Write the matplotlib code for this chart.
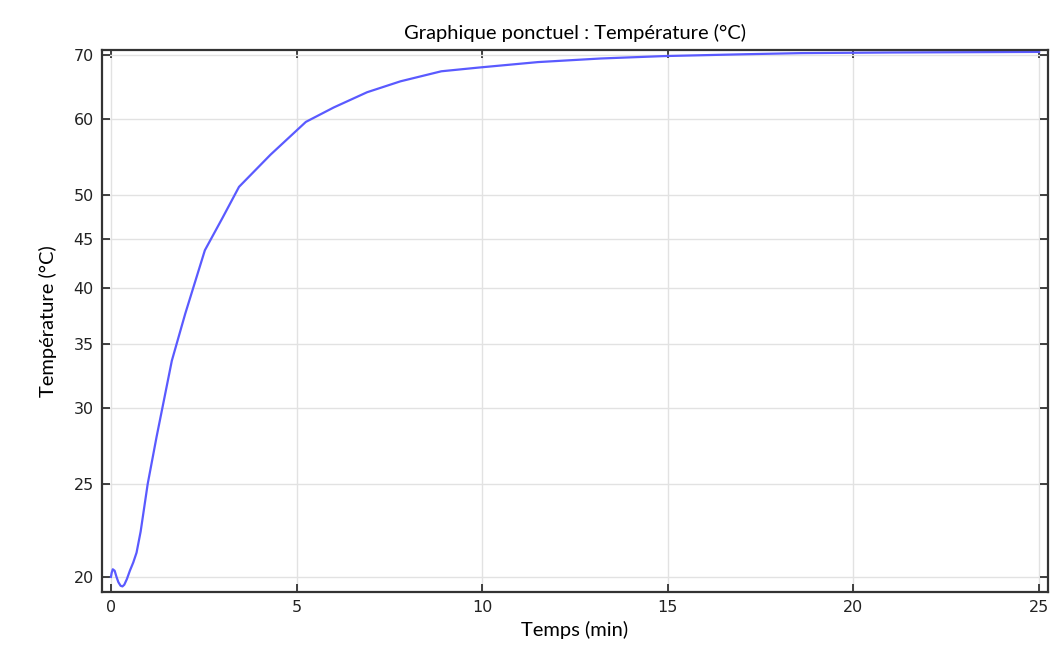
import os
import matplotlib
matplotlib.use("Agg")
import matplotlib.pyplot as plt
from matplotlib.ticker import NullLocator
from matplotlib.font_manager import FontProperties

# Data
time_min = [0.0, 0.02, 0.05, 0.1, 0.15, 0.2, 0.26, 0.31, 0.36, 0.43, 0.51, 0.6, 0.69,
            0.8, 0.99, 1.23, 1.43, 1.64, 2.0, 2.53, 3.0, 3.45, 4.3, 5.25, 6.0,
            6.9, 7.8, 8.9, 9.9, 11.5, 13.2, 14.9, 17.0, 18.6, 21.0, 25.0]
temperature = [20.0, 20.2, 20.37, 20.3, 20.0, 19.75, 19.58, 19.55, 19.63, 19.9, 20.3,
               20.7, 21.2, 22.3, 25.0, 28.0, 30.6, 33.6, 37.6, 43.8, 47.3, 51.0,
               55.1, 59.6, 61.7, 64.0, 65.7, 67.3, 67.9, 68.8, 69.4, 69.8, 70.1,
               70.3, 70.4, 70.5]

x_ticks = [0, 5, 10, 15, 20, 25]
y_ticks = [20, 25, 30, 35, 40, 45, 50, 60, 70]

dv_path = os.path.join(matplotlib.get_data_path(), "fonts", "ttf", "DejaVuSans.ttf")
if os.path.exists(dv_path):
    tick_fp = FontProperties(fname=dv_path, size=11.5)
else:
    tick_fp = FontProperties(family="DejaVu Sans", size=11.5)

fig = plt.figure(figsize=(10.54, 6.55), dpi=100)
ax = fig.add_axes([0.0968, 0.0962, 0.8975, 0.8275])

ax.plot(time_min, temperature, color="#5a5aff", linewidth=1.6)

ax.set_yscale("log")
ax.set_xlim(-0.24, 25.24)
ax.set_ylim(19.29, 70.83)

ax.set_xticks(x_ticks, [str(v) for v in x_ticks], fontproperties=tick_fp, color="#222222")
ax.set_yticks(y_ticks, [str(v) for v in y_ticks], fontproperties=tick_fp, color="#222222")
ax.yaxis.set_minor_locator(NullLocator())
ax.xaxis.set_minor_locator(NullLocator())

ax.grid(True, color="#e2e2e2", linewidth=1.0)
ax.set_axisbelow(True)

for s in ax.spines.values():
    s.set_color("#333333")
    s.set_linewidth(1.6)

ax.tick_params(direction="in", top=True, right=True, length=6, width=1.2,
               color="#222222", pad=6)

lab_font = dict(family="Lato", size=14.5, color="#000000")
ax.set_title("Graphique ponctuel : Température (°C)", fontdict=lab_font, pad=8)
ax.set_xlabel("Temps (min)", fontdict=lab_font, labelpad=4)
ax.set_ylabel("Température (°C)", fontdict=lab_font, labelpad=12)

fig.savefig("out.png", dpi=100)
